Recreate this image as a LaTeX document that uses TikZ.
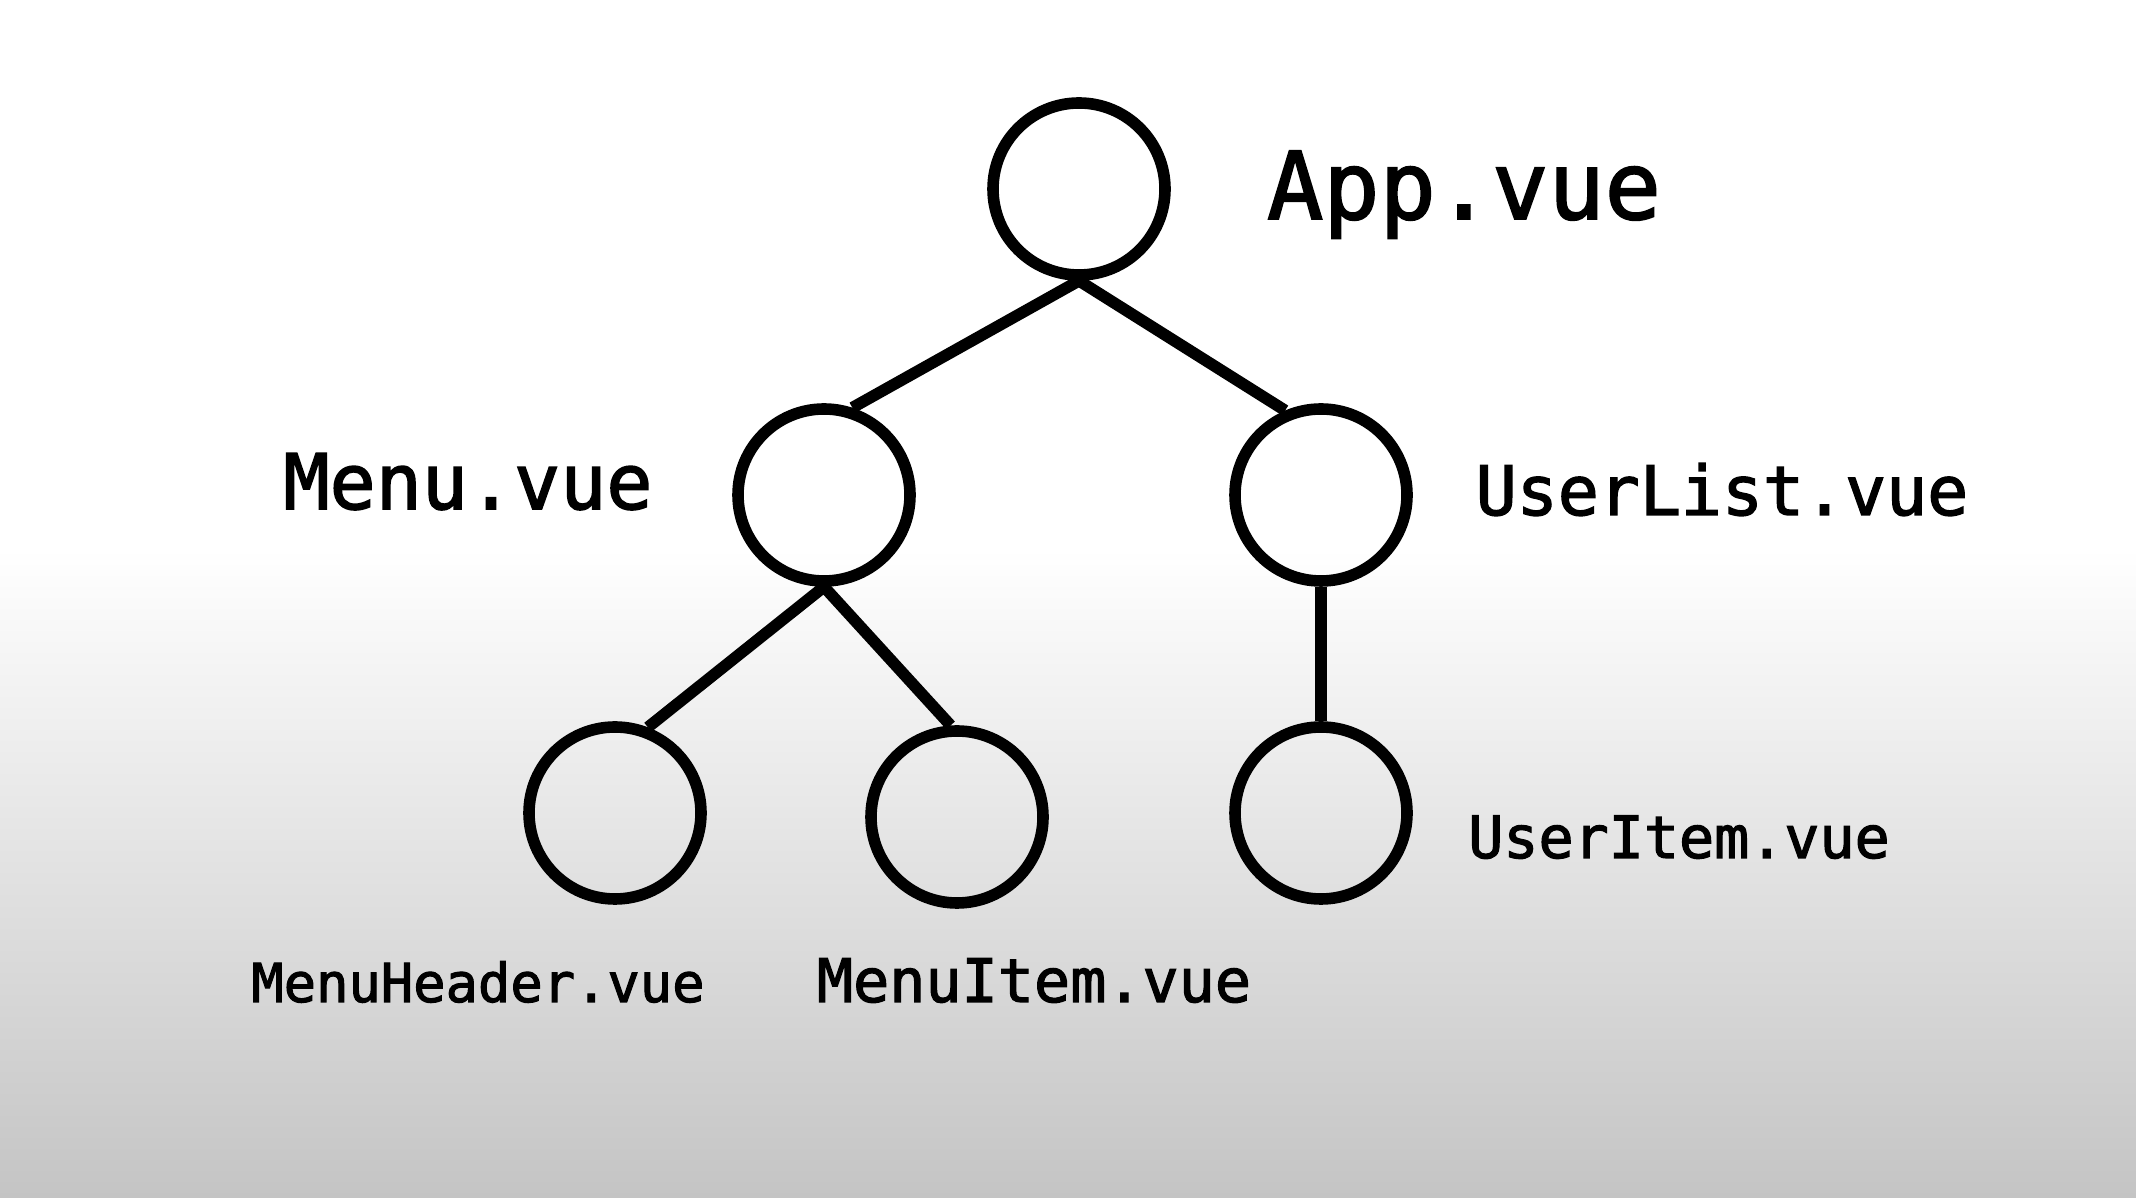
\documentclass[tikz,border=0pt]{standalone}
\usepackage{fontspec}
\newfontfamily\codefont[FakeBold=2]{DejaVu Sans Mono}
\usepackage{tikz}
\usetikzlibrary{positioning}

\definecolor{bgbottom}{HTML}{C4C4C4}

\begin{document}
\begin{tikzpicture}[
        comp/.style={circle, draw, line width=3.3pt, minimum size=1.72cm, inner sep=0pt},
        link/.style={line width=3.3pt},
        fname/.style={anchor=base, inner sep=0pt, font=\codefont}
    ]
                    % background
                    \fill[white] (0,6.5) rectangle (21.36,11.98);
                    \shade[top color=white, bottom color=bgbottom] (0,0) rectangle (21.36,6.5);
                    \useasboundingbox (0,0) rectangle (21.36,11.98);

                    \node[comp] (app) at (10.79, 10.09) {};
                    \node[comp] (menu) at (8.24, 7.03) {};
                    \node[comp] (userlist) at (13.21, 7.03) {};
                    \node[comp] (menuheader) at (6.15, 3.85) {};
                    \node[comp] (menuitem) at (9.57, 3.81) {};
                    \node[comp] (useritem) at (13.21, 3.85) {};

                    \draw[link] (app.south) -- (menu.72);
                    \draw[link] (app.south) -- (userlist.113);
                    \draw[link] (menu.south) -- (menuheader.69);
                    \draw[link] (menu.south) -- (menuitem.94);
                    \draw[link] (userlist.south) -- (useritem.north);

                    \node[fname, font=\codefont\fontsize{26.6}{30}\selectfont] (applabel) at (14.64, 9.79) {App.vue};
                    \node[fname, font=\codefont\fontsize{21.8}{26}\selectfont] (menulabel) at (4.68, 6.89) {Menu.vue};
                    \node[fname, font=\codefont\fontsize{19.4}{23}\selectfont] (userlistlabel) at (17.22, 6.83) {UserList.vue};
                    \node[fname, font=\codefont\fontsize{16.6}{20}\selectfont] (useritemlabel) at (16.79, 3.40) {UserItem.vue};
                    \node[fname, font=\codefont\fontsize{15.3}{18}\selectfont] (menuheaderlabel) at (4.78, 1.96) {MenuHeader.vue};
                    \node[fname, font=\codefont\fontsize{17.1}{20}\selectfont] (menuitemlabel) at (10.34, 1.96) {MenuItem.vue};
                \end{tikzpicture}
\end{document}
